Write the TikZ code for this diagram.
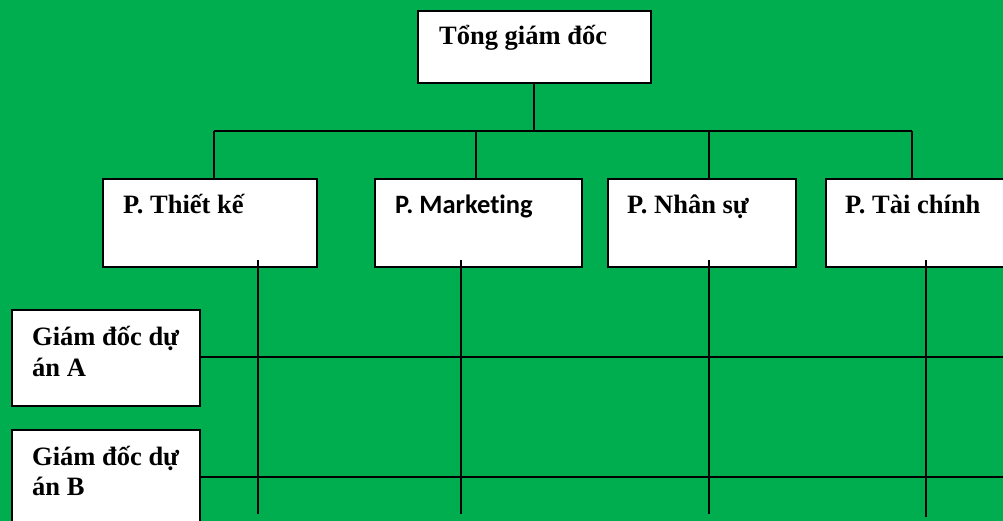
\documentclass[tikz,border=0pt]{standalone}
\usepackage{fontspec}
\setmainfont{Liberation Serif}
\newfontfamily\calfont[Ligatures={NoCommon}]{Carlito}
\definecolor{bggreen}{HTML}{00AE50}
\begin{document}
\begin{tikzpicture}[x=1pt,y=-1pt,
  box/.style={draw=black,fill=white,line width=2.2pt,inner sep=0pt,anchor=north west},
  lbl/.style={anchor=base west,inner sep=0pt,font=\fontsize{26.5}{31}\selectfont\bfseries},
  conn/.style={draw=black,line width=2.6pt}]
\fill[bggreen] (0,0) rectangle (1003,521);
\useasboundingbox (0,0) rectangle (1003,521);
% boxes
\node[box,minimum width=233pt,minimum height=72pt] (ceo) at (417,10) {};
\node[lbl] (ceot) at (439,45) {Tổng giám đốc};
\node[box,minimum width=214pt,minimum height=88pt] (tk) at (102,178) {};
\node[lbl] (tkt) at (123,214) {P. Thiết kế};
\node[box,minimum width=207pt,minimum height=88pt] (mk) at (374,178) {};
\node[lbl,font=\fontsize{26.5}{31}\selectfont\calfont\bfseries] (mkt) at (395,214) {P. Marketing};
\node[box,minimum width=188pt,minimum height=88pt] (ns) at (607,178) {};
\node[lbl] (nst) at (627,214) {P. Nhân sự};
\node[box,minimum width=190pt,minimum height=88pt] (tc) at (825,178) {};
\node[lbl] (tct) at (845,214) {P. Tài chính};
\node[box,minimum width=188pt,minimum height=96pt] (ga) at (11,309) {};
\node[lbl] (gat1) at (32,345) {Giám đốc dự};
\node[lbl] (gat2) at (32,376) {án A};
\node[box,minimum width=188pt,minimum height=96pt] (gb) at (11,429) {};
\node[lbl] (gbt1) at (32,465) {Giám đốc dự};
\node[lbl] (gbt2) at (32,495) {án B};
% coordinates
\coordinate (busc) at (534,131);
\coordinate (b1) at (214,131);
\coordinate (b2) at (476,131);
\coordinate (b3) at (709,131);
\coordinate (b4) at (912,131);
\coordinate (v1t) at (258,260); \coordinate (v1b) at (258,514);
\coordinate (v2t) at (461,260); \coordinate (v2b) at (461,514);
\coordinate (v3t) at (709,260); \coordinate (v3b) at (709,514);
\coordinate (v4t) at (926,260); \coordinate (v4b) at (926,517);
\coordinate (ra) at (1003,357);
\coordinate (rb) at (1003,477);
% connectors
\draw[conn] (ceo.south -| busc) -- (busc);
\draw[conn] (b1) -- (b4);
\draw[conn] (b1) -- (b1 |- tk.north);
\draw[conn] (b2) -- (b2 |- mk.north);
\draw[conn] (b3) -- (b3 |- ns.north);
\draw[conn] (b4) -- (b4 |- tc.north);
\draw[conn] (v1t) -- (v1b);
\draw[conn] (v2t) -- (v2b);
\draw[conn] (v3t) -- (v3b);
\draw[conn] (v4t) -- (v4b);
\draw[conn] (ga.east |- ra) -- (ra);
\draw[conn] (gb.east |- rb) -- (rb);
\end{tikzpicture}
\end{document}
